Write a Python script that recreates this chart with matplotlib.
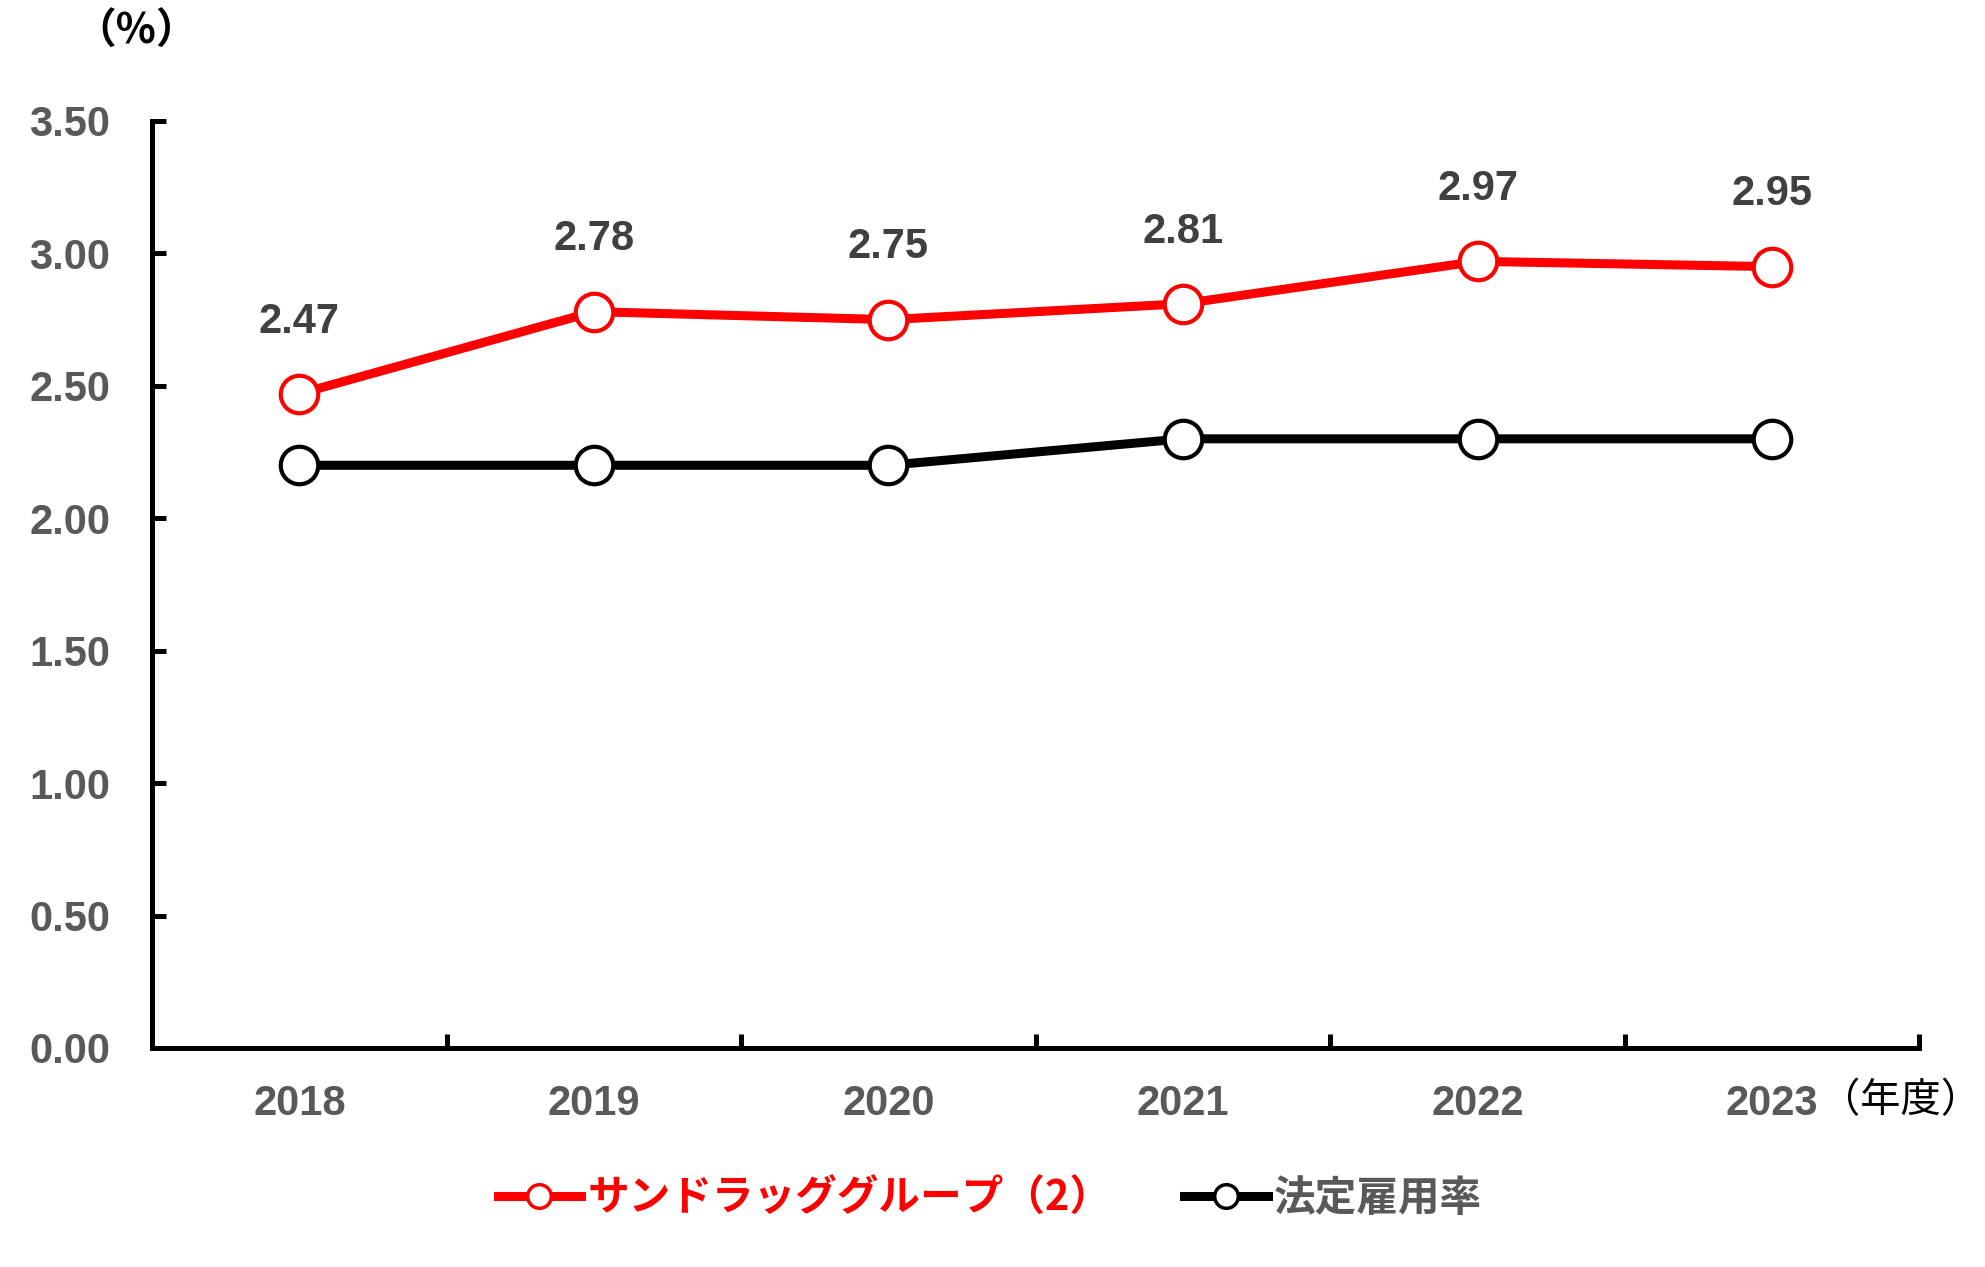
import matplotlib
matplotlib.use("Agg")
import matplotlib.pyplot as plt

years = ["2018", "2019", "2020", "2021", "2022", "2023"]
sundrug = [2.47, 2.78, 2.75, 2.81, 2.97, 2.95]
legal = [2.2, 2.2, 2.2, 2.3, 2.3, 2.3]
yticks = [0.0, 0.5, 1.0, 1.5, 2.0, 2.5, 3.0, 3.5]
label_sundrug = "サンドラッググループ（2）"
label_legal = "法定雇用率"

FAM = ["Liberation Sans", "Noto Sans CJK JP", "DejaVu Sans"]
CJK = ["Noto Sans CJK JP", "DejaVu Sans"]
FS = 30

fig = plt.figure(figsize=(19.85, 12.67), dpi=100)
ax = fig.add_axes([0.0766, 0.1729, 0.8904, 0.7316])

x = list(range(len(years)))
ax.plot(x, sundrug, color="#FF0000", lw=6.5, marker="o", ms=27, mfc="white",
        mec="#FF0000", mew=3, label=label_sundrug, zorder=3)
ax.plot(x, legal, color="#000000", lw=6.5, marker="o", ms=27, mfc="white",
        mec="#000000", mew=3, label=label_legal, zorder=3)

for xi, v in zip(x, sundrug):
    ax.annotate(f"{v:.2f}", (xi, v), xytext=(0, 52), textcoords="offset points",
                ha="center", va="center", fontsize=FS, fontweight="bold",
                color="#404040", family=FAM)

ax.set_xlim(-0.5, 5.5)
ax.set_ylim(0, 3.5)
ax.set_yticks(yticks)
ax.set_yticklabels([f"{t:.2f}" for t in yticks])
ax.set_xticks(x)
ax.set_xticklabels(years)
ax.set_xticks([i + 0.5 for i in x], minor=True)

for s in ["top", "right"]:
    ax.spines[s].set_visible(False)
for s in ["left", "bottom"]:
    ax.spines[s].set_linewidth(3.6)
    ax.spines[s].set_color("black")

ax.tick_params(axis="y", direction="in", length=10, width=3.6, pad=30,
               labelsize=FS, labelcolor="#595959")
ax.tick_params(axis="x", which="major", length=0, pad=26, labelsize=FS,
               labelcolor="#595959")
ax.tick_params(axis="x", which="minor", direction="in", length=10, width=3.6)
for lab in ax.get_yticklabels() + ax.get_xticklabels():
    lab.set_fontweight("bold")
    lab.set_family(FAM)

fig.text(0.0685, 0.975, "（%）", fontsize=FS, fontweight="bold", color="black",
         family=CJK, ha="center", va="center")
fig.text(0.917, 0.131, "（年度）", fontsize=29, color="black",
         family=CJK, ha="left", va="center")

leg = ax.legend(loc="center", bbox_to_anchor=(0.474, -0.163), ncol=2, frameon=False,
                handlelength=2.0, columnspacing=1.75, handletextpad=0.15,
                prop={"family": CJK, "weight": "bold", "size": FS})
for h in leg.legend_handles:
    h.set_markersize(17)
    h.set_markeredgewidth(2.5)
texts = leg.get_texts()
texts[0].set_color("#FF0000")
texts[1].set_color("#595959")

fig.savefig("out.png", dpi=100)
